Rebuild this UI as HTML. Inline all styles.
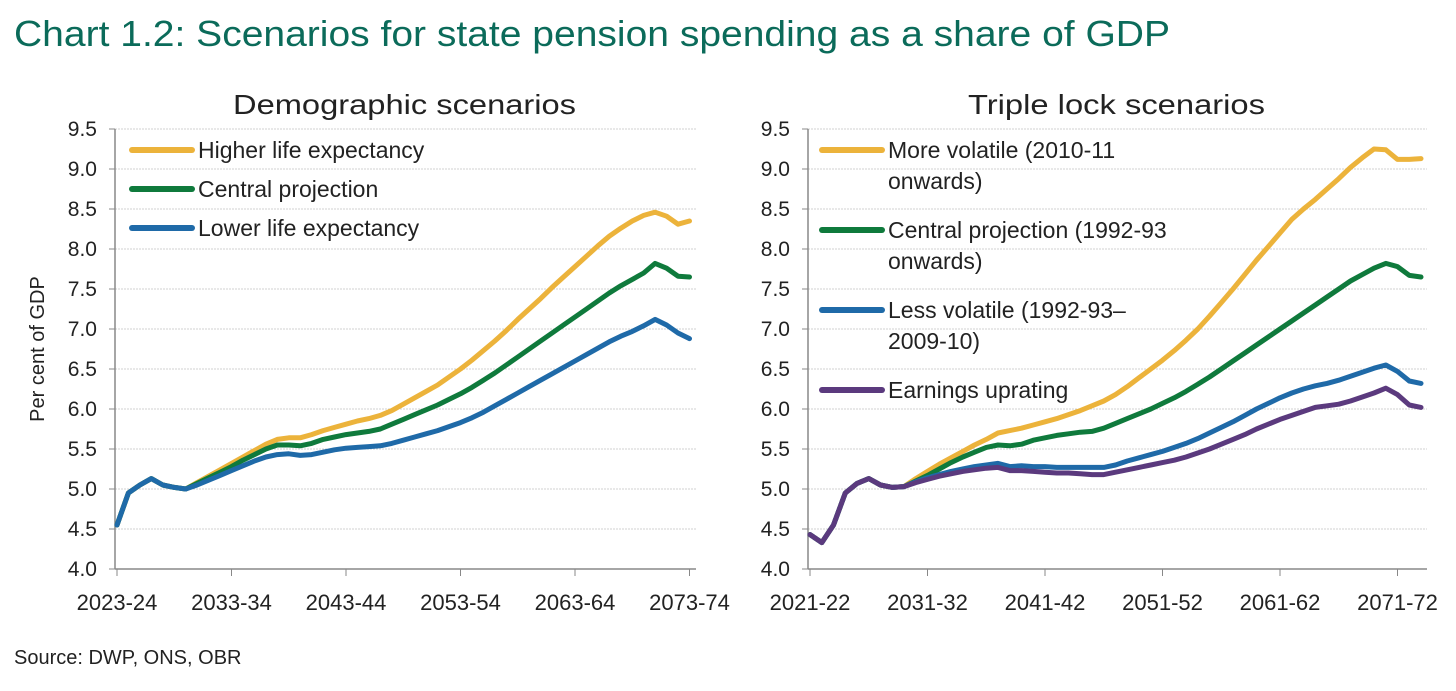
<!DOCTYPE html>
<html><head><meta charset="utf-8"><style>
body{margin:0;background:#fff;width:1456px;height:686px;overflow:hidden;font-family:"Liberation Sans",sans-serif}
</style></head><body>
<svg id="svg" width="1456" height="686" xmlns="http://www.w3.org/2000/svg">
<text x="14" y="46" font-size="36" fill="#0b6b5a" textLength="1156" lengthAdjust="spacingAndGlyphs">Chart 1.2: Scenarios for state pension spending as a share of GDP</text>
<text x="233" y="114" font-size="28" fill="#222" textLength="343" lengthAdjust="spacingAndGlyphs">Demographic scenarios</text>
<text x="968" y="114" font-size="28" fill="#222" textLength="297" lengthAdjust="spacingAndGlyphs">Triple lock scenarios</text>
<text transform="translate(44,349) rotate(-90)" font-size="20" text-anchor="middle" fill="#222">Per cent of GDP</text>
<text x="14" y="664" font-size="20" fill="#222">Source: DWP, ONS, OBR</text>
<g id="left"></g><g id="right"></g>
</svg>
<script>
const yTicks=[4.0,4.5,5.0,5.5,6.0,6.5,7.0,7.5,8.0,8.5,9.0,9.5];
const leftXLabels=["2023-24","2033-34","2043-44","2053-54","2063-64","2073-74"];
const rightXLabels=["2021-22","2031-32","2041-42","2051-52","2061-62","2071-72"];
const leftStartYear=2023;
const rightStartYear=2021;
const leftLower=[4.55,4.95,5.05,5.13,5.05,5.02,5.0,5.05,5.11,5.17,5.23,5.29,5.35,5.40,5.43,5.44,5.42,5.43,5.46,5.49,5.51,5.52,5.53,5.54,5.57,5.61,5.65,5.69,5.73,5.78,5.83,5.89,5.96,6.04,6.12,6.20,6.28,6.36,6.44,6.52,6.60,6.68,6.76,6.84,6.91,6.97,7.04,7.12,7.05,6.95,6.88];
const leftCentral=[4.55,4.95,5.05,5.13,5.05,5.02,5.0,5.07,5.14,5.21,5.28,5.36,5.43,5.50,5.55,5.55,5.54,5.57,5.62,5.65,5.68,5.70,5.72,5.75,5.81,5.87,5.93,5.99,6.05,6.12,6.19,6.27,6.36,6.45,6.55,6.65,6.75,6.85,6.95,7.05,7.15,7.25,7.35,7.45,7.54,7.62,7.70,7.82,7.76,7.66,7.65];
const leftHigher=[4.55,4.95,5.05,5.13,5.05,5.02,5.0,5.08,5.16,5.24,5.32,5.40,5.48,5.56,5.62,5.64,5.64,5.68,5.73,5.77,5.81,5.85,5.88,5.92,5.98,6.06,6.14,6.22,6.30,6.40,6.50,6.61,6.73,6.85,6.98,7.12,7.25,7.38,7.52,7.65,7.78,7.91,8.04,8.16,8.26,8.35,8.42,8.46,8.41,8.31,8.35];
const rightEarnings=[4.43,4.33,4.55,4.95,5.07,5.13,5.05,5.02,5.03,5.08,5.12,5.16,5.19,5.22,5.24,5.26,5.27,5.23,5.23,5.22,5.21,5.20,5.20,5.19,5.18,5.18,5.21,5.24,5.27,5.30,5.33,5.36,5.40,5.45,5.50,5.56,5.62,5.68,5.75,5.81,5.87,5.92,5.97,6.02,6.04,6.06,6.10,6.15,6.20,6.26,6.18,6.05,6.02];
const rightLess=[4.43,4.33,4.55,4.95,5.07,5.13,5.05,5.02,5.03,5.09,5.14,5.18,5.22,5.25,5.28,5.30,5.32,5.28,5.29,5.28,5.28,5.27,5.27,5.27,5.27,5.27,5.30,5.35,5.39,5.43,5.47,5.52,5.57,5.63,5.70,5.77,5.84,5.92,6.00,6.07,6.14,6.20,6.25,6.29,6.32,6.36,6.41,6.46,6.51,6.55,6.47,6.35,6.32];
const rightCentral=[4.43,4.33,4.55,4.95,5.07,5.13,5.05,5.02,5.03,5.10,5.17,5.25,5.33,5.40,5.46,5.52,5.55,5.54,5.56,5.61,5.64,5.67,5.69,5.71,5.72,5.76,5.82,5.88,5.94,6.00,6.07,6.14,6.22,6.31,6.40,6.50,6.60,6.70,6.80,6.90,7.00,7.10,7.20,7.30,7.40,7.50,7.60,7.68,7.76,7.82,7.78,7.67,7.65];
const rightMore=[4.43,4.33,4.55,4.95,5.07,5.13,5.05,5.02,5.03,5.13,5.22,5.31,5.39,5.47,5.55,5.62,5.70,5.73,5.76,5.80,5.84,5.88,5.93,5.98,6.04,6.10,6.18,6.28,6.39,6.50,6.61,6.73,6.86,7.00,7.16,7.33,7.50,7.68,7.86,8.03,8.20,8.37,8.50,8.62,8.75,8.88,9.02,9.14,9.25,9.24,9.12,9.12,9.13];
const NS="http://www.w3.org/2000/svg";
const yScale=v=>569-(v-4)*80;
function mk(p,t,a){const e=document.createElementNS(NS,t);for(const k in a)e.setAttribute(k,a[k]);p.appendChild(e);return e;}
function panel(g,cfg){
  const xS=i=>cfg.x0+i*cfg.step;
  yTicks.forEach((t,i)=>{
    const y=yScale(t);
    if(i>0){const l=mk(g,'line',{x1:cfg.ax,x2:cfg.right,y1:y,y2:y,stroke:'#d0d0d0','stroke-dasharray':'2,1'});
      
      }
    const tk=mk(g,'line',{x1:cfg.ax-6,x2:cfg.ax,y1:y,y2:y,stroke:'#888'});
    
    
    const tx=mk(g,'text',{x:cfg.ax-18,y:y+7,'font-size':21,'text-anchor':'end',fill:'#222'});
    tx.textContent=t.toFixed(1);
    
    
  });
  const ya=mk(g,'line',{x1:cfg.ax,x2:cfg.ax,y1:yScale(9.5),y2:569,stroke:'#888','stroke-width':1.5});
  
  
  const xa=mk(g,'line',{x1:cfg.ax,x2:cfg.right,y1:569,y2:569,stroke:'#888','stroke-width':1.5});
  
  
  cfg.labels.forEach((lb,i)=>{
    const x=xS(i*10);
    const tk=mk(g,'line',{x1:x,x2:x,y1:569,y2:576,stroke:'#888'});
    
    
    const t=mk(g,'text',{x:x,y:610,'font-size':22,'text-anchor':'middle',fill:'#222'});
    t.textContent=lb;
    
    
  });
  cfg.series.forEach(s=>{
    const d=s.data.map((v,i)=>(i?'L':'M')+xS(i).toFixed(1)+','+yScale(v).toFixed(1)).join(' ');
    const p=mk(g,'path',{d:d,fill:'none',stroke:s.c,'stroke-width':5,'stroke-linejoin':'round','stroke-linecap':'round'});
    
    
  });
  cfg.legend.forEach(L=>{
    const l=mk(g,'line',{x1:cfg.lx,x2:cfg.lx+60,y1:L.y,y2:L.y,stroke:L.c,'stroke-width':6,'stroke-linecap':'round'});
    
    
    L.t.forEach((tt,j)=>{
      const t=mk(g,'text',{x:cfg.lx+66,y:L.y+8+j*31,'font-size':23,fill:'#222'});
      t.textContent=tt;
      
      
    });
  });
}
panel(document.getElementById('left'),{ax:115,right:696,x0:117,step:11.45,labels:leftXLabels,lx:132,
 series:[{data:leftHigher,c:'#ecb33b',n:'higher-life-expectancy-line'},{data:leftCentral,c:'#0f7a3c',n:'central-projection-line'},{data:leftLower,c:'#1f6aa8',n:'lower-life-expectancy-line'}],
 legend:[{y:150,c:'#ecb33b',t:['Higher life expectancy']},{y:189,c:'#0f7a3c',t:['Central projection']},{y:228,c:'#1f6aa8',t:['Lower life expectancy']}]});
panel(document.getElementById('right'),{ax:808,right:1427,x0:810,step:11.75,labels:rightXLabels,lx:822,
 series:[{data:rightMore,c:'#ecb33b',n:'more-volatile-line'},{data:rightCentral,c:'#0f7a3c',n:'central-projection-line'},{data:rightLess,c:'#1f6aa8',n:'less-volatile-line'},{data:rightEarnings,c:'#5b3a7e',n:'earnings-uprating-line'}],
 legend:[{y:150,c:'#ecb33b',t:['More volatile (2010-11','onwards)']},{y:230,c:'#0f7a3c',t:['Central projection (1992-93','onwards)']},{y:310,c:'#1f6aa8',t:['Less volatile (1992-93–','2009-10)']},{y:390,c:'#5b3a7e',t:['Earnings uprating']}]});
</script>
</body></html>
